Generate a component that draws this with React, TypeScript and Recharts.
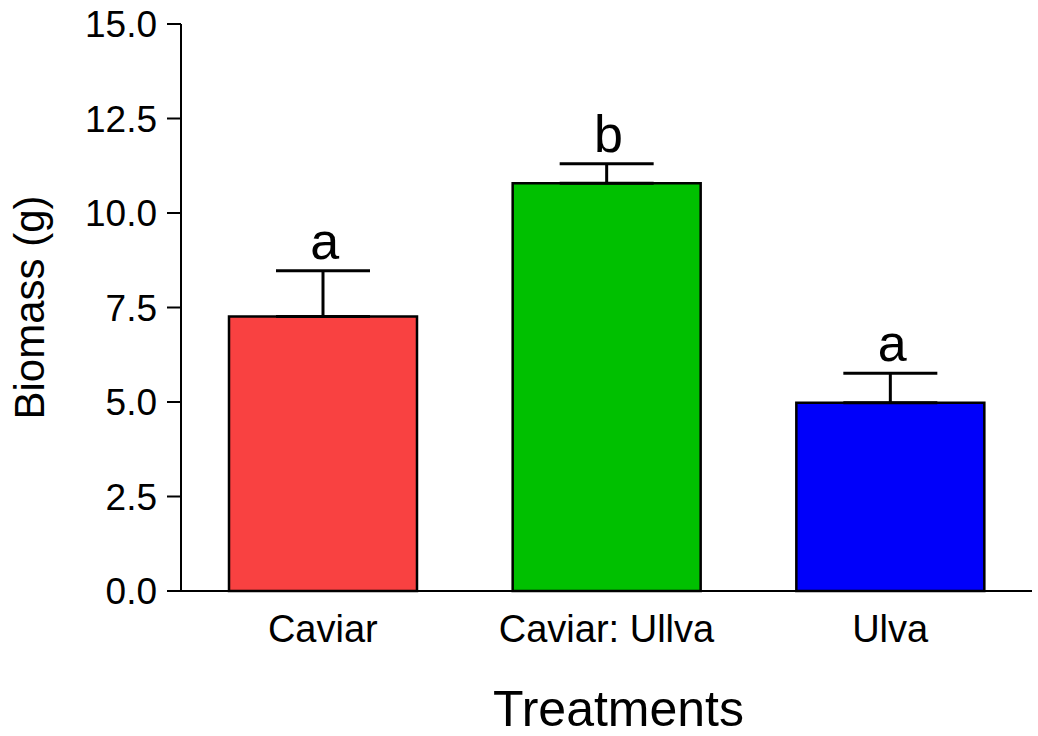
import { Bar, Cell, ComposedChart, ErrorBar, Label, Scatter, XAxis, YAxis } from "recharts"

const treatments = ["Caviar", "Caviar: Ullva", "Ulva"]
const biomass = [7.26, 10.79, 4.98]
const sem = [1.21, 0.51, 0.78]
const letters = ["a", "b", "a"]
const barColors = ["#F94141", "#00C000", "#0000FA"]
const yTicks = [0, 2.5, 5, 7.5, 10, 12.5, 15]

const font = "'Liberation Sans', Arial, sans-serif"

const chartData = treatments.map((name, i) => ({
  name,
  biomass: biomass[i],
  err: [0, sem[i]],
  top: biomass[i] + sem[i],
  letter: letters[i],
}))

const LetterMark = (props: any) => {
  const { cx, cy, payload } = props
  if (cx == null || cy == null) return <g />
  return (
    <text
      x={cx + 2}
      y={cy - 12}
      textAnchor="middle"
      fontSize={52}
      fontFamily={font}
      fill="#000"
    >
      {payload.letter}
    </text>
  )
}

export default function App() {
  return (
    <div style={{ position: "absolute", left: 0, top: 0 }}>
      <ComposedChart
        width={1038}
        height={736}
        data={chartData}
        margin={{ top: 24, right: 6, bottom: 0, left: 0 }}
      >
        <XAxis
          dataKey="name"
          height={145}
          tickLine={false}
          tickSize={0}
          tickMargin={24}
          axisLine={{ stroke: "#000", strokeWidth: 2 }}
          tick={{ fill: "#000", fontSize: 38, fontFamily: font }}
        >
          <Label
            content={(p: any) => {
              const vb = p.viewBox
              return (
                <text
                  x={vb.x + vb.width / 2 + 12}
                  y={vb.y + 135}
                  textAnchor="middle"
                  fontSize={50}
                  fontFamily={font}
                  fill="#000"
                >
                  Treatments
                </text>
              )
            }}
          />
        </XAxis>
        <YAxis
          width={181}
          domain={[0, 15]}
          ticks={yTicks}
          interval={0}
          tickFormatter={(v: number) => v.toFixed(1)}
          tickSize={14}
          tickMargin={10}
          tickLine={{ stroke: "#000", strokeWidth: 2 }}
          axisLine={{ stroke: "#000", strokeWidth: 2 }}
          tick={{ fill: "#000", fontSize: 37, fontFamily: font }}
        >
          <Label
            content={(p: any) => {
              const vb = p.viewBox
              const cy = vb.y + vb.height / 2
              return (
                <text
                  x={44}
                  y={cy}
                  transform={`rotate(-90, 44, ${cy})`}
                  textAnchor="middle"
                  fontSize={42}
                  fontFamily={font}
                  fill="#000"
                >
                  Biomass (g)
                </text>
              )
            }}
          />
        </YAxis>
        <Bar
          dataKey="biomass"
          barSize={188}
          stroke="#000"
          strokeWidth={2.5}
          isAnimationActive={false}
        >
          {chartData.map((d, i) => (
            <Cell key={d.name} fill={barColors[i]} />
          ))}
          <ErrorBar dataKey="err" width={47} stroke="#000" strokeWidth={3} />
        </Bar>
        <Scatter
          dataKey="top"
          shape={LetterMark}
          isAnimationActive={false}
        />
      </ComposedChart>
    </div>
  )
}
